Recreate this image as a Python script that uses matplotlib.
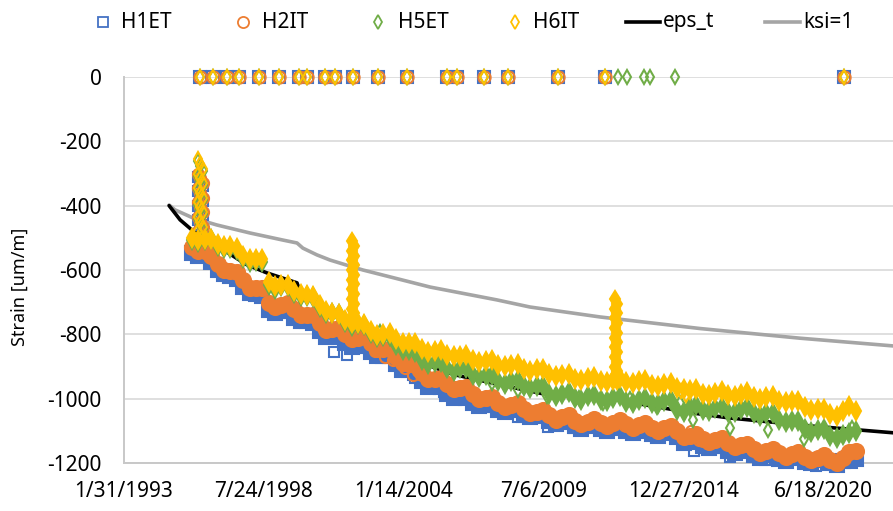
import matplotlib
matplotlib.use("Agg")
import matplotlib.pyplot as plt
from matplotlib.lines import Line2D
from datetime import datetime, timedelta
import pandas as pd

plt.rcParams['font.family'] = ['Noto Sans', 'DejaVu Sans']
plt.rcParams['axes.unicode_minus'] = False

# quarterly readings Oct 1995 .. Oct 2021
dates = pd.date_range("1995-10-01", "2021-10-01", freq="QS")

h1et = [-546,
        -556, -553, -574, -599,
        -613, -618, -628, -654,
        -673, -674, -680, -724,
        -733, -726, -727, -749,
        -760, -760, -764, -790,
        -808, -806, -807, -826,
        -838, -836, -837, -856,
        -868, -866, -867, -892,
        -908, -912, -920, -946,
        -963, -961, -964, -985,
        -998, -996, -997, -1014,
        -1023, -1019, -1019, -1035,
        -1043, -1036, -1034, -1050,
        -1058, -1053, -1052, -1069,
        -1078, -1072, -1070, -1086,
        -1093, -1085, -1082, -1095,
        -1100, -1091, -1087, -1101,
        -1108, -1100, -1095, -1109,
        -1115, -1106, -1102, -1119,
        -1138, -1134, -1132, -1146,
        -1153, -1148, -1147, -1162,
        -1168, -1162, -1160, -1176,
        -1183, -1176, -1172, -1187,
        -1193, -1186, -1182, -1196,
        -1201, -1192, -1187, -1200,
        -1205, -1193, -1184, -1189]

h2it = [-527,
        -540, -540, -555, -580,
        -600, -603, -605, -632,
        -655, -655, -655, -702,
        -715, -708, -702, -722,
        -740, -740, -740, -764,
        -785, -783, -780, -800,
        -815, -810, -805, -827,
        -845, -845, -845, -870,
        -890, -893, -895, -920,
        -940, -938, -935, -954,
        -970, -968, -965, -984,
        -1000, -998, -995, -1012,
        -1025, -1020, -1015, -1032,
        -1045, -1040, -1035, -1052,
        -1065, -1058, -1052, -1068,
        -1080, -1072, -1063, -1076,
        -1085, -1076, -1067, -1080,
        -1090, -1082, -1075, -1090,
        -1100, -1092, -1085, -1102,
        -1120, -1117, -1110, -1124,
        -1135, -1128, -1122, -1138,
        -1150, -1145, -1140, -1156,
        -1168, -1162, -1155, -1170,
        -1180, -1173, -1165, -1180,
        -1190, -1183, -1175, -1190,
        -1200, -1183, -1165, -1164]

h5et = [-506,
        -513, -506, -505, -526,
        -533, -532, -538, -564,
        -576, -572, -575, -646,
        -658, -651, -650, -672,
        -680, -680, -685, -716,
        -733, -733, -738, -763,
        -773, -768, -770, -796,
        -808, -804, -805, -834,
        -848, -848, -855, -881,
        -893, -886, -885, -906,
        -913, -906, -905, -926,
        -933, -926, -925, -946,
        -953, -944, -942, -962,
        -968, -962, -962, -984,
        -993, -984, -980, -999,
        -1003, -993, -988, -1005,
        -1008, -997, -992, -1010,
        -1013, -1003, -998, -1015,
        -1018, -1008, -1005, -1036,
        -1043, -1026, -1020, -1036,
        -1038, -1028, -1025, -1041,
        -1043, -1031, -1025, -1046,
        -1053, -1046, -1045, -1066,
        -1073, -1068, -1070, -1094,
        -1103, -1096, -1095, -1116,
        -1123, -1113, -1108, -1101]

h6it = [-499,
        -506, -503, -504, -519,
        -524, -526, -532, -556,
        -566, -566, -567, -636,
        -651, -648, -647, -666,
        -674, -678, -682, -709,
        -726, -733, -737, -756,
        -766, -766, -767, -789,
        -801, -798, -797, -816,
        -826, -826, -827, -847,
        -856, -851, -849, -864,
        -868, -866, -864, -880,
        -886, -882, -879, -894,
        -899, -895, -892, -908,
        -913, -909, -907, -924,
        -931, -927, -924, -939,
        -943, -937, -932, -945,
        -948, -941, -936, -949,
        -951, -946, -942, -956,
        -961, -955, -952, -966,
        -971, -973, -970, -984,
        -988, -982, -977, -989,
        -991, -984, -980, -996,
        -1001, -996, -992, -1006,
        -1011, -1008, -1007, -1026,
        -1036, -1033, -1032, -1048,
        -1054, -1038, -1022, -1039]

# readings logged as 0 (decimal years)
zero_years = [1996.06, 1996.57, 1997.12, 1997.59, 1998.37, 1999.15, 1999.94, 2000.25,
              2000.95, 2001.35, 2002.05, 2003.03, 2004.17, 2005.73, 2006.12, 2007.18,
              2008.12, 2010.08, 2011.92, 2021.28]
h5et_zero_extra = [2012.43, 2012.78, 2013.45, 2013.69, 2014.66]

# first readings after install (early 1996)
col_years = [1995.98, 1996.08, 1996.16, 1995.98, 1996.08, 1996.16, 1995.98, 1996.08,
             1996.16, 1995.98, 1996.08, 1996.16, 1995.98, 1996.08, 1996.16, 1995.98]
h6it_col = [-255, -270, -285, -300, -315, -330, -345, -360, -375, -390, -405, -420, -435, -450, -465, -480]
h5et_col = [-262, -277, -292, -307, -322, -337, -352, -367, -382, -397, -412, -427, -442, -457, -472]
h2it_col = [-300, -315, -330, -345, -360, -375, -390, -405, -420, -435, -450, -465, -480]
h1et_col = [-310, -325, -340, -355, -370, -385, -400, -415, -430, -445, -460, -475, -490]

# H6IT jumps in 2002 and 2012
h6it_spike_years = [2002.02, 2002.10] * 9 + [2012.31, 2012.39] * 9
h6it_spike = [-510, -525, -540, -555, -570, -585, -600, -615, -630, -645, -660, -675, -690, -705, -720, -735, -750, -760,
              -690, -705, -720, -735, -750, -765, -780, -795, -810, -825, -840, -855, -870, -885, -900, -915, -930, -945]

# scattered single readings
h1et_out_years = [2001.3, 2001.8, 2003.9, 2004.5, 2005.0, 2005.6, 2006.8, 2008.5, 2009.7, 2010.7,
                  2011.8, 2013.9, 2015.4, 2016.8, 2018.2, 2020.2, 2021.6]
h1et_out = [-855, -865, -918, -935, -968, -978, -1015, -1058, -1088, -1092,
            -1098, -1120, -1162, -1182, -1192, -1208, -1200]
h2it_out_years = [2002.9, 2003.3, 2003.6, 2004.1, 2004.4, 2004.6, 2015.3, 2015.6, 2021.4, 2021.6]
h2it_out = [-852, -870, -880, -905, -925, -915, -1100, -1128, -1175, -1160]
h5et_out_years = [2003.1, 2003.5, 2004.0, 2004.7, 2005.7, 2007.5, 2008.5, 2009.65, 2010.9, 2011.85,
                  2012.9, 2013.95, 2014.85, 2015.35, 2016.8, 2018.3, 2019.7, 2021.6]
h5et_out = [-792, -812, -832, -862, -905, -952, -972, -992, -998, -1013,
            -1000, -1026, -1015, -1066, -1090, -1097, -1125, -1092]
h6it_out_years = [2014.9, 2015.1]
h6it_out = [-975, -990]

eps_years = [1994.85, 1995.28, 1995.75, 1997.90, 1998.68, 1999.86, 1999.98, 2001.0, 2002.0, 2003.0,
             2004.0, 2006.0, 2008.0, 2009.5, 2011.7, 2015.4, 2016.8, 2020.0, 2023.2]
eps_t = [-400, -444, -476, -584, -609, -640, -668, -725, -775, -825,
         -868, -925, -960, -985, -995, -1045, -1060, -1085, -1106]

ksi_years = [1994.85, 1995.08, 1995.78, 1996.72, 1998.02, 1999.31, 1999.86, 2000.09, 2000.64, 2001.15,
             2001.93, 2002.44, 2005.07, 2007.69, 2008.98, 2011.73, 2015.65, 2019.56, 2023.2]
ksi = [-398, -413, -438, -460, -485, -507, -516, -532, -553, -569,
       -588, -600, -653, -693, -715, -746, -782, -812, -836]


def yr(v):
    y = int(v)
    return datetime(y, 1, 1) + timedelta(days=(v - y) * 365.25)


def yrs(vals):
    return [yr(v) for v in vals]


BLUE, ORANGE, GREEN, GOLD, GRAY = "#4472C4", "#ED7D31", "#70AD47", "#FFC000", "#A5A5A5"

fig = plt.figure(figsize=(8.93, 5.11), dpi=100)
ax = fig.add_axes([124 / 893, 48 / 511, 1 - 124 / 893, 386 / 511])

ax.plot(yrs(ksi_years), ksi, color=GRAY, lw=2.6, zorder=2, solid_capstyle="round")
ax.plot(yrs(eps_years), eps_t, color="black", lw=2.6, zorder=2, solid_capstyle="round")

series = [
    (h1et, h1et_col, h1et_out_years, h1et_out, [], [], zero_years, BLUE, "s", 7.2),
    (h2it, h2it_col, h2it_out_years, h2it_out, [], [], zero_years, ORANGE, "o", 8.0),
    (h5et, h5et_col, h5et_out_years, h5et_out, [], [], zero_years + h5et_zero_extra, GREEN, "d", 6.8),
    (h6it, h6it_col, h6it_out_years, h6it_out, h6it_spike_years, h6it_spike, zero_years, GOLD, "d", 6.8),
]
for i, (vals, col, oy, ov, sy, sv, zy, c, m, ms) in enumerate(series):
    z = 3 + i
    kw = dict(ls="none", marker=m, mec=c, mew=1.5, clip_on=False, zorder=z)
    # the dense daily band: bigger filled markers
    ax.plot(dates, vals, mfc=c, ms=ms * 1.35, **kw)
    ax.plot(yrs(oy), ov, mfc="none", ms=ms, **kw)
    ax.plot(yrs(col_years[:len(col)]), col, mfc="none", ms=ms, **kw)
    if sy:
        ax.plot(yrs(sy), sv, mfc=c, ms=ms * 1.2, **kw)
    ax.plot(yrs(zy), [0] * len(zy), mfc="none", ms=ms * 1.1, **kw)

start = datetime(1993, 1, 31)
ax.set_xlim(start, start + timedelta(days=11001))
ax.set_ylim(-1200, 0)
ticks = [start + timedelta(days=2000 * k) for k in range(6)]
ax.set_xticks(ticks)
ax.set_xticklabels([f"{d.month}/{d.day}/{d.year}" for d in ticks])
ax.set_yticks(range(-1200, 1, 200))
ax.tick_params(axis="both", length=0, labelsize=15)
ax.tick_params(axis="y", pad=16)
ax.tick_params(axis="x", pad=13)
ax.yaxis.grid(True, color="#D9D9D9", lw=1.2)
ax.set_axisbelow(True)
for s in ["top", "right"]:
    ax.spines[s].set_visible(False)
for s in ["left", "bottom"]:
    ax.spines[s].set_color("#C8C8C8")
    ax.spines[s].set_linewidth(1.4)

fig.text(20 / 893, 1 - 287 / 511, "Strain [um/m]", rotation=90, va="center", ha="center", fontsize=13)

# legend drawn by hand along the top
ly = 1 - 22 / 511
marker_items = [("H1ET", BLUE, "s", 7.2, 103, 121), ("H2IT", ORANGE, "o", 8.0, 243, 262),
                ("H5ET", GREEN, "d", 6.8, 378, 398), ("H6IT", GOLD, "d", 6.8, 515, 533)]
for label, c, m, ms, mx, tx in marker_items:
    fig.add_artist(Line2D([mx / 893], [ly], marker=m, ms=ms, mec=c, mfc="none", mew=1.3,
                          ls="none", transform=fig.transFigure))
    fig.text(tx / 893, ly, label, va="center", ha="left", fontsize=15)
line_items = [("eps_t", "black", 626, 660, 663), ("ksi=1", GRAY, 765, 800, 803)]
for label, c, x0, x1, tx in line_items:
    fig.add_artist(Line2D([x0 / 893, x1 / 893], [ly, ly], color=c, lw=2.6, transform=fig.transFigure))
    fig.text(tx / 893, ly, label, va="center", ha="left", fontsize=15)

fig.savefig("out.png", dpi=100)
